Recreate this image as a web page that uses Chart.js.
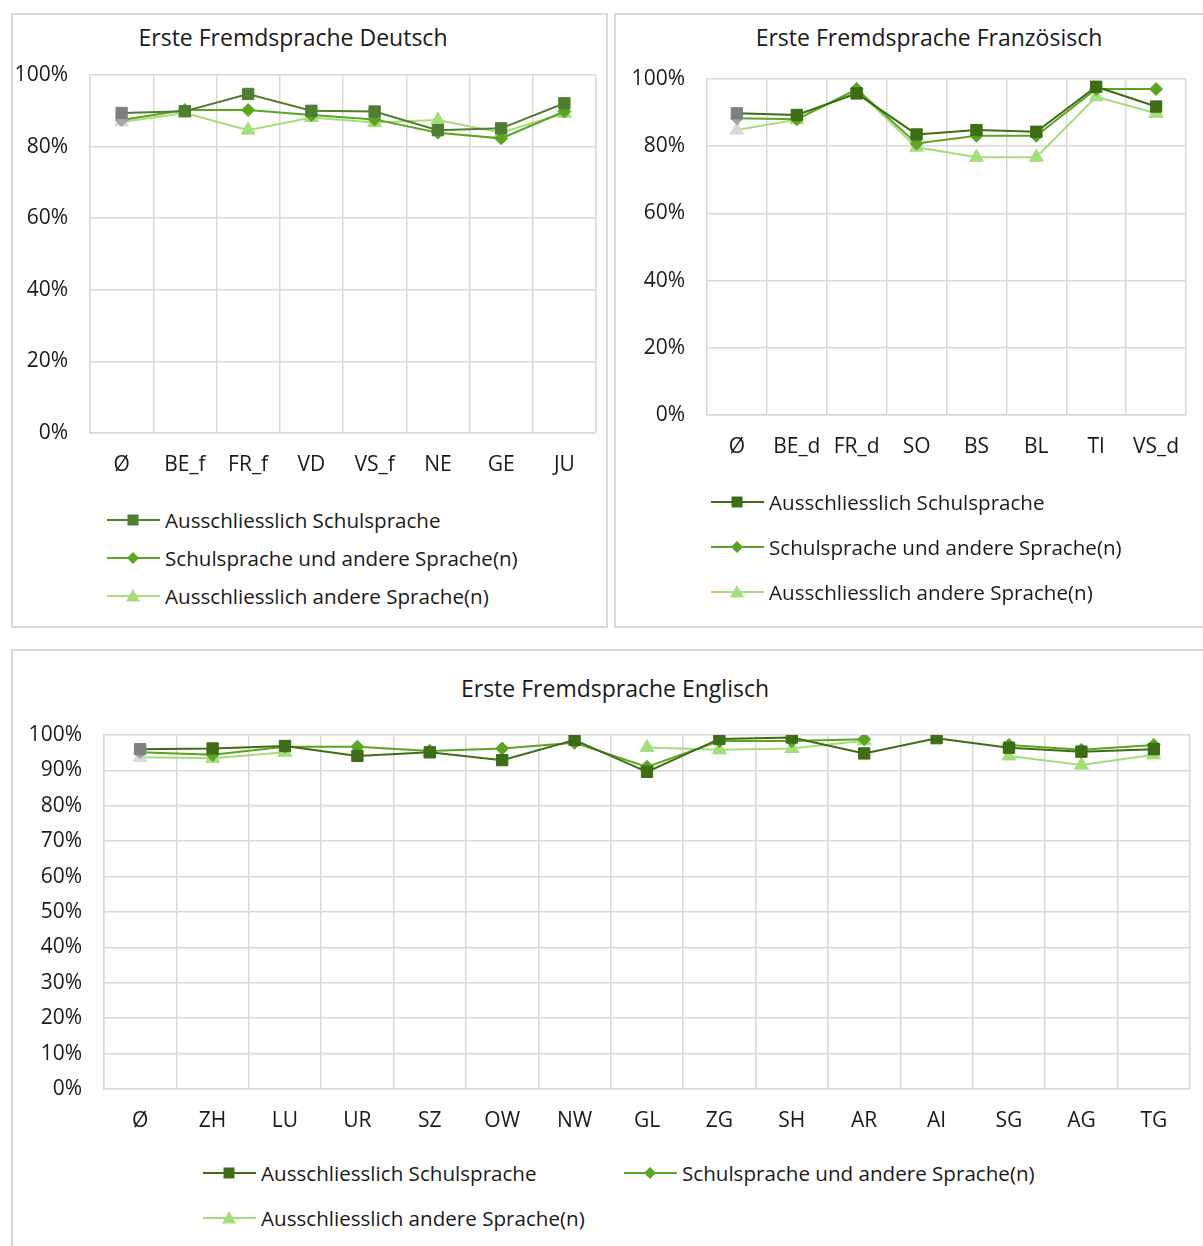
<!DOCTYPE html>
<html>
<head>
<meta charset="utf-8">
<script src="https://cdn.jsdelivr.net/npm/chart.js@4.4.1/dist/chart.umd.min.js"></script>
<style>
  body { margin: 0; background: #fff; font-family: "Open Sans", sans-serif; color: #1a1a1a; }
  .panel { position: absolute; border: 2px solid #d9d9d9; box-sizing: border-box; }
  canvas { position: absolute; }
  .title { position: absolute; font-size: 23px; white-space: nowrap; transform: translate(-50%, -50%); }
  .leg { position: absolute; font-size: 20.6px; white-space: nowrap; display: flex; align-items: center; transform: translateY(-50%); }
  .leg svg { margin-right: 5px; }
</style>
</head>
<body>
<div class="panel" style="left:11px;top:13px;width:597px;height:615px"></div>
<div class="panel" style="left:614px;top:13px;width:600px;height:615px"></div>
<div class="panel" style="left:11px;top:649px;width:1203px;height:610px"></div>

<div class="title" style="left:293px;top:37px">Erste Fremdsprache Deutsch</div>
<div class="title" style="left:929px;top:37px">Erste Fremdsprache Französisch</div>
<div class="title" style="left:615px;top:688px">Erste Fremdsprache Englisch</div>

<canvas id="de" width="607" height="480" style="left:0px;top:13px"></canvas>
<canvas id="fr" width="589" height="480" style="left:614px;top:13px"></canvas>
<canvas id="en" width="1192" height="500" style="left:11px;top:649px"></canvas>

<script>
// series names shared by all three panels
const SERIES = ['Ausschliesslich Schulsprache', 'Schulsprache und andere Sprache(n)', 'Ausschliesslich andere Sprache(n)'];

const DE_LABELS = ['Ø', 'BE_f', 'FR_f', 'VD', 'VS_f', 'NE', 'GE', 'JU'];
const DE_SCHUL = [89.4, 89.9, 94.7, 90.0, 89.8, 84.6, 85.1, 92.1];
const DE_BEIDE = [87.4, 90.2, 90.2, 88.8, 87.6, 83.9, 82.3, 89.8];
const DE_ANDERE = [86.9, 89.4, 84.6, 88.1, 86.7, 87.4, 83.9, 89.3];

const FR_LABELS = ['Ø', 'BE_d', 'FR_d', 'SO', 'BS', 'BL', 'TI', 'VS_d'];
const FR_SCHUL = [89.8, 89.3, 95.7, 83.5, 84.8, 84.3, 97.7, 91.8];
const FR_BEIDE = [88.3, 88.0, 97.0, 80.8, 83.1, 83.1, 97.0, 97.0];
const FR_ANDERE = [84.8, 87.9, 96.7, 79.7, 76.7, 76.7, 94.7, 89.8];

const EN_LABELS = ['Ø', 'ZH', 'LU', 'UR', 'SZ', 'OW', 'NW', 'GL', 'ZG', 'SH', 'AR', 'AI', 'SG', 'AG', 'TG'];
const EN_SCHUL = [96.0, 96.2, 96.9, 94.1, 95.1, 92.9, 98.6, 89.6, 98.9, 99.3, 94.8, 99.1, 96.4, 95.3, 96.0];
const EN_BEIDE = [95.1, 94.4, 96.7, 96.7, 95.5, 96.2, 97.8, 91.0, 98.3, 98.3, 98.8, null, 97.2, 95.8, 97.2];
const EN_ANDERE = [93.7, 93.4, 95.1, null, 95.1, null, null, 96.5, 95.8, 96.2, 98.4, null, 94.1, 91.5, 94.4];

const GRID = '#d9d9d9';
const TEXT = '#1a1a1a';
// marker per series, plus the grey used for the Ø point
const STYLES = [
  { style: 'rect', radius: 8, grey: '#808080' },
  { style: 'rectRot', radius: 6.5, grey: '#a6a6a6' },
  { style: 'triangle', radius: 8, grey: '#d9d9d9' },
];

function datasets(values, colours) {
  return values.map((v, k) => {
    const s = STYLES[k];
    const pts = v.map((_, i) => (i === 0 ? s.grey : colours[k]));
    return {
      label: SERIES[k],
      data: v,
      borderColor: colours[k],
      borderWidth: 2,
      pointStyle: s.style,
      pointRadius: s.radius,
      pointHoverRadius: s.radius,
      pointBackgroundColor: pts,
      pointBorderColor: pts,
      pointBorderWidth: 1,
      spanGaps: false,
      tension: 0,
    };
  });
}

function render(id, labels, values, colours, cfg) {
  new Chart(document.getElementById(id), {
    type: 'line',
    data: { labels, datasets: datasets(values, colours) },
    options: {
      responsive: false,
      animation: false,
      layout: { padding: cfg.pad },
      plugins: { legend: { display: false }, tooltip: { enabled: false } },
      scales: {
        x: {
          offset: true,
          grid: { offset: true, color: GRID, lineWidth: 1.5, drawTicks: false },
          border: { color: GRID, width: 1.5 },
          ticks: { color: TEXT, padding: 19, font: { family: 'Open Sans', size: 21 }, maxRotation: 0, autoSkip: false },
          afterFit: (s) => { s.height = 50; },
        },
        y: {
          min: 0,
          max: 100,
          grid: { color: GRID, lineWidth: 1.5, drawTicks: false },
          border: { color: GRID, width: 1.5 },
          ticks: { stepSize: cfg.step, color: TEXT, padding: 22, font: { family: 'Open Sans', size: 21 }, callback: (v) => v + '%' },
          afterFit: (s) => { s.width = cfg.yw; },
        },
      },
    },
  });
}

const C1 = ['#507e30', '#5ba523', '#a4de78'];
const C2 = ['#3d6d14', '#5ba523', '#a4de78'];

render('de', DE_LABELS, [DE_SCHUL, DE_BEIDE, DE_ANDERE], C1, { pad: { left: 10, right: 11, top: 62, bottom: 10 }, yw: 80, step: 20 });
render('fr', FR_LABELS, [FR_SCHUL, FR_BEIDE, FR_ANDERE], C2, { pad: { left: 13, right: 17, top: 66, bottom: 28 }, yw: 80, step: 20 });
render('en', EN_LABELS, [EN_SCHUL, EN_BEIDE, EN_ANDERE], C2, { pad: { left: 13, right: 13, top: 86, bottom: 10 }, yw: 80, step: 10 });

// html legends: line with marker in the middle, then series name
function icon(k, colour) {
  const shapes = [
    `<rect x="20.5" y="5.5" width="11" height="11" fill="${colour}"/>`,
    `<polygon points="26,5 32,11 26,17 20,11" fill="${colour}"/>`,
    `<polygon points="26,4 33,16.5 19,16.5" fill="${colour}"/>`,
  ];
  return `<svg width="53" height="22"><line x1="0" y1="11" x2="53" y2="11" stroke="${colour}" stroke-width="2"/>${shapes[k]}</svg>`;
}
function legend(items, colours) {
  items.forEach(([k, x, y]) => {
    const d = document.createElement('div');
    d.className = 'leg';
    d.style.left = x + 'px';
    d.style.top = y + 'px';
    d.innerHTML = icon(k, colours[k]) + '<span>' + SERIES[k] + '</span>';
    document.body.appendChild(d);
  });
}
legend([[0, 107, 520], [1, 107, 558], [2, 107, 596]], C1);
legend([[0, 711, 502], [1, 711, 547], [2, 711, 592]], C2);
legend([[0, 203, 1173], [1, 624, 1173], [2, 203, 1218]], C2);
</script>
</body>
</html>
